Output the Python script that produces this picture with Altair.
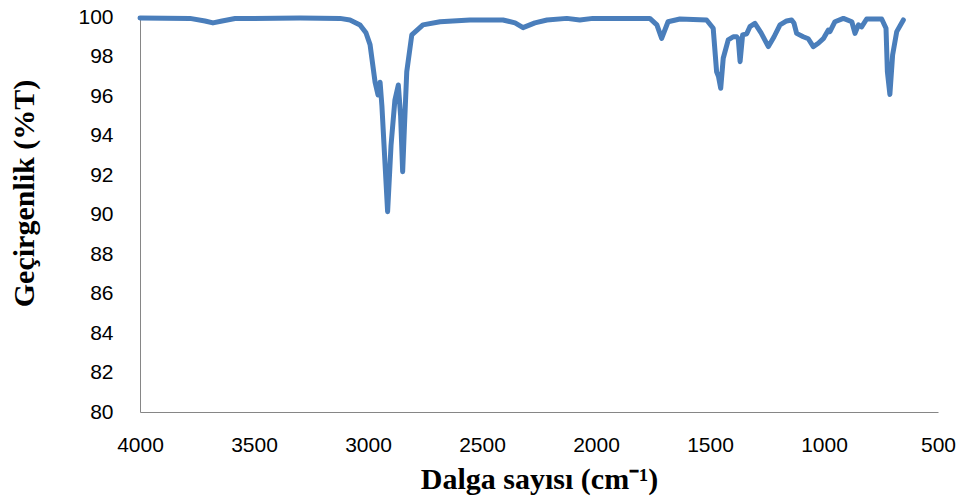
import altair as alt
import pandas as pd

wavenumber = [4000, 3781, 3715, 3680, 3640, 3583, 3298, 3123, 3079, 3035, 3009, 2991,
              2969, 2956, 2947, 2939, 2925, 2914, 2899, 2882, 2867, 2857, 2848, 2840,
              2830, 2808, 2759, 2684, 2553, 2408, 2355, 2320, 2268, 2215, 2128, 2071,
              2014, 1764, 1733, 1712, 1684, 1632, 1515, 1486, 1471, 1463, 1453, 1442,
              1420, 1398, 1383, 1376, 1368, 1357, 1339, 1325, 1303, 1276, 1244, 1219,
              1193, 1164, 1142, 1132, 1120, 1091, 1069, 1047, 1025, 1003, 981, 974,
              952, 915, 878, 864, 849, 835, 813, 747, 728, 722, 711, 699, 681, 652]
transmittance = [99.95, 99.93, 99.8, 99.7, 99.8, 99.92, 99.95, 99.93, 99.85, 99.6, 99.2, 98.6,
                 96.7, 96.05, 96.7, 95.5, 92.5, 90.14, 93.5, 95.8, 96.56, 95.0, 92.17, 94.5,
                 97.23, 99.09, 99.6, 99.76, 99.85, 99.85, 99.7, 99.46, 99.7, 99.85, 99.93, 99.85,
                 99.93, 99.93, 99.6, 98.92, 99.76, 99.9, 99.85, 99.43, 97.23, 97.0, 96.39, 97.91,
                 98.84, 99.0, 99.0, 98.9, 97.74, 99.09, 99.15, 99.51, 99.68, 99.2, 98.5, 99.0,
                 99.6, 99.8, 99.85, 99.7, 99.17, 99.0, 98.9, 98.5, 98.67, 98.9, 99.34, 99.26,
                 99.76, 99.93, 99.76, 99.17, 99.6, 99.5, 99.9, 99.9, 99.43, 97.23, 96.08, 98.08, 99.26, 99.85]

x_ticks = [4000, 3500, 3000, 2500, 2000, 1500, 1000, 500]
y_ticks = [80, 82, 84, 86, 88, 90, 92, 94, 96, 98, 100]

df = pd.DataFrame({"wn": wavenumber, "T": transmittance, "order": list(range(len(wavenumber)))})

chart = alt.Chart(df).mark_line(color="#4A7EBB", strokeWidth=5, strokeJoin="round", strokeCap="round").encode(
    x=alt.X("wn:Q",
            scale=alt.Scale(domain=[500, 4000], reverse=True, nice=False, zero=False),
            axis=alt.Axis(values=x_ticks, format="d", title="Dalga sayısı (cm⁻¹)", grid=False, ticks=False,
                          tickSize=0, labelPadding=22, labelFont="Liberation Sans", labelFontSize=21,
                          labelColor="#000000", domainColor="#868686", labelFlush=False,
                          titleFont="Liberation Serif", titleFontSize=30, titleFontWeight="bold",
                          titleColor="#000000", titleY=76, titleBaseline="alphabetic")),
    y=alt.Y("T:Q",
            scale=alt.Scale(domain=[80, 100], nice=False, zero=False),
            axis=alt.Axis(values=y_ticks, format="d", title="Geçirgenlik (%T)", grid=False, ticks=False,
                          tickSize=0, labelPadding=27, labelFont="Liberation Sans", labelFontSize=21,
                          labelColor="#000000", domainColor="#868686",
                          titleFont="Liberation Serif", titleFontSize=30, titleFontWeight="bold",
                          titleColor="#000000", titleX=-107, titleY=176, titleAngle=-90,
                          titleAlign="center", titleBaseline="alphabetic")),
    order="order:Q",
).properties(
    width=798, height=395,
    padding={"left": 140, "top": 17, "right": 30, "bottom": 87},
    autosize=alt.AutoSizeParams(type="none"),
).configure_view(stroke=None)

chart.save("out.html", embed_options={"renderer": "svg", "actions": False})
